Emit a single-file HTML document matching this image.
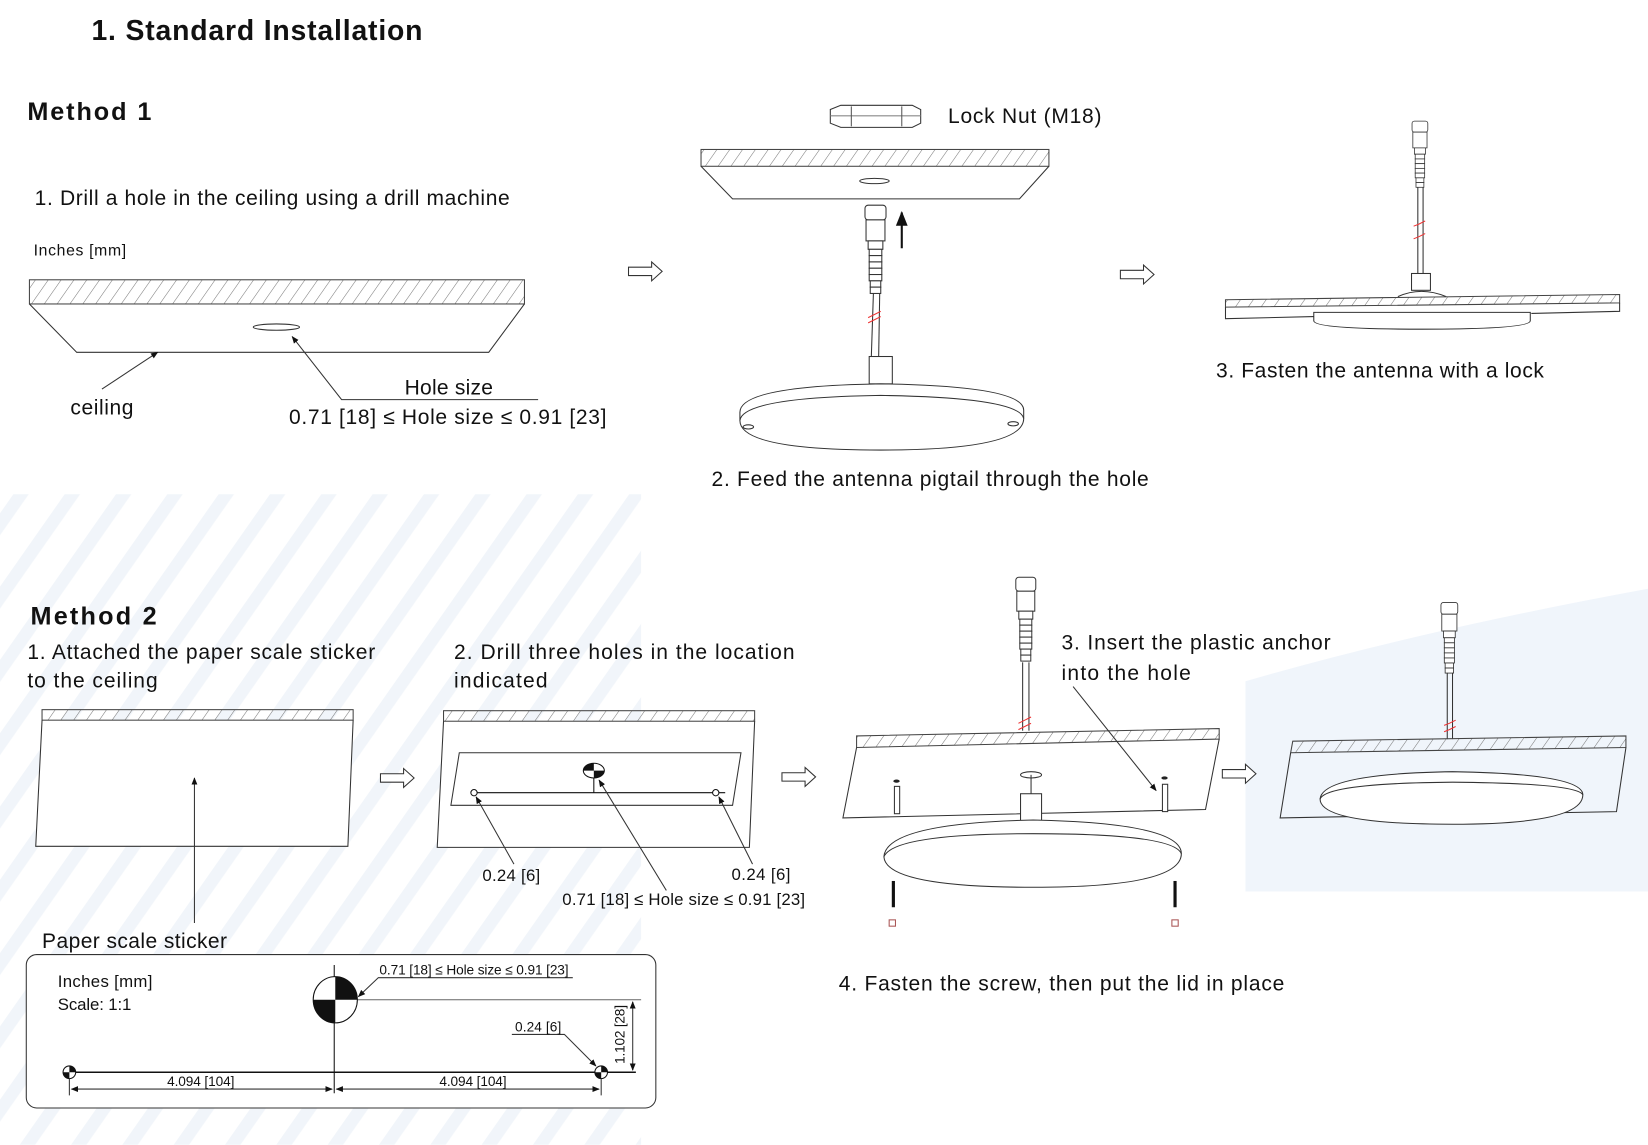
<!DOCTYPE html>
<html><head><meta charset="utf-8"><style>
html,body{margin:0;padding:0;background:#fff;}
svg{display:block;}
text{font-family:"Liberation Sans",sans-serif;fill:#111;}
</style></head><body>
<svg width="1648" height="1145" viewBox="0 0 1568 1089" xmlns="http://www.w3.org/2000/svg">
<defs>
<pattern id="h" width="10" height="10" patternUnits="userSpaceOnUse" patternTransform="rotate(35)">
<line x1="0" y1="0" x2="0" y2="10" stroke="#777" stroke-width="1"/></pattern>
<pattern id="bg" width="40" height="40" patternUnits="userSpaceOnUse" patternTransform="rotate(35)">
<rect x="0" y="0" width="12" height="40" fill="#f1f5fa"/></pattern>
<marker id="a" viewBox="0 0 10 10" refX="9" refY="5" markerWidth="7" markerHeight="7" orient="auto-start-reverse"><path d="M0,1 L10,5 L0,9 z" fill="#111"/></marker>
<g id="arr"><path d="M0,-4 H22 V-9 L32,0 L22,9 V4 H0 Z" fill="#fff" stroke="#333" stroke-width="1"/></g>
<g id="cab" stroke="#333" fill="#fff" stroke-width="1">
<rect x="-10" y="0" width="20" height="14" rx="3"/><rect x="-9" y="14" width="18" height="20"/>
<rect x="-7" y="34" width="14" height="8"/><rect x="-6" y="42" width="12" height="6"/><rect x="-6" y="48" width="12" height="6"/><rect x="-6" y="54" width="12" height="6"/><rect x="-6" y="60" width="12" height="6"/><rect x="-6" y="66" width="12" height="6"/><rect x="-5" y="72" width="10" height="6"/><rect x="-5" y="78" width="10" height="6"/></g>
</defs>
<rect width="1568" height="1089" fill="#fff"/>
<path d="M1185,648 Q1350,600 1568,560 L1568,848 L1185,848Z" fill="#f0f5fb"/>
<path d="M0,470 L610,470 L610,1089 L0,1089Z" fill="url(#bg)"/>

<text x="87" y="38" font-size="27" font-weight="bold" textLength="315">1.  Standard Installation</text>
<text x="26" y="114" font-size="24" font-weight="bold" textLength="118">Method 1</text>
<text x="33" y="195" font-size="20" textLength="452">1. Drill a hole in the ceiling  using a drill machine</text>
<text x="32" y="243" font-size="15" textLength="88">Inches [mm]</text>
<rect x="28" y="266" width="471" height="23" fill="url(#h)" stroke="#444"/>
<path d="M28,289 L73,335 L465,335 L499,289" fill="none" stroke="#333"/>
<ellipse cx="263" cy="311" rx="22" ry="3" fill="none" stroke="#333"/>
<line x1="97" y1="370" x2="150" y2="335" stroke="#333" marker-end="url(#a)"/>
<path d="M512,380 H325 L278,320" fill="none" stroke="#333" marker-end="url(#a)"/>
<text x="385" y="375" font-size="20" textLength="84">Hole size</text>
<text x="67" y="394" font-size="20" textLength="60">ceiling</text>
<text x="275" y="403" font-size="20" textLength="302">0.71 [18] ≤  Hole size ≤ 0.91 [23]</text>

<use href="#arr" x="598" y="258"/><use href="#arr" x="1066" y="261"/>

<path d="M790,104 L800,100 H868 L876,104 V117 L868,121 H800 L790,117Z" fill="#fff" stroke="#333"/>
<line x1="790" y1="110" x2="876" y2="110" stroke="#888"/><line x1="810" y1="101" x2="810" y2="120" stroke="#555"/><line x1="858" y1="101" x2="858" y2="120" stroke="#555"/>
<text x="902" y="117" font-size="20" textLength="146">Lock Nut (M18)</text>
<rect x="667" y="142" width="331" height="16" fill="url(#h)" stroke="#444"/>
<path d="M667,158 L697,189 L970,189 L998,158" fill="none" stroke="#333"/>
<ellipse cx="832" cy="172" rx="14" ry="2.5" fill="none" stroke="#333"/>
<use href="#cab" x="833" y="195"/>
<line x1="831" y1="279" x2="829" y2="340" stroke="#333"/><line x1="837" y1="279" x2="836" y2="340" stroke="#333"/>
<path d="M826,302 l6,-3 l6,-3 M826,307 l6,-3 l6,-3" stroke="#e33" fill="none"/>
<rect x="827" y="339" width="22" height="26" fill="#fff" stroke="#333"/>
<line x1="858" y1="236" x2="858" y2="202" stroke="#111" stroke-width="2" marker-end="url(#a)"/>
<path d="M704,392 Q704,367 838,365 Q974,367 974,390 L974,398 Q974,428 838,428 Q704,428 704,400Z" fill="#fff" stroke="#333"/>
<path d="M704,400 Q706,378 838,376 Q970,378 974,398" fill="none" stroke="#333"/>
<ellipse cx="712" cy="406" rx="5" ry="2" fill="none" stroke="#333"/><ellipse cx="964" cy="403" rx="5" ry="2" fill="none" stroke="#333"/>
<text x="677" y="462" font-size="20" textLength="416">2. Feed the antenna pigtail through the hole</text>

<g transform="translate(1351,115) scale(0.75)"><use href="#cab"/></g>
<line x1="1349" y1="178" x2="1349" y2="262" stroke="#333"/><line x1="1354" y1="178" x2="1354" y2="262" stroke="#333"/>
<path d="M1345,215 l5,-2 l6,-3 M1345,227 l5,-2 l6,-3" stroke="#e33" fill="none"/>
<rect x="1343" y="260" width="18" height="16" fill="#fff" stroke="#333"/>
<path d="M1330,282 Q1352,272 1376,282" fill="#fff" stroke="#333"/>
<path d="M1166,285 L1541,280 L1541,288 L1166,292Z" fill="url(#h)" stroke="#444"/>
<path d="M1166,292 V303 L1250,301 M1457,298 L1541,296 V288" fill="none" stroke="#333"/>
<path d="M1250,297 H1456 V305 Q1456,313 1353,313 Q1250,313 1250,305Z" fill="#fff" stroke="#333"/>
<text x="1157" y="359" font-size="20" textLength="312">3. Fasten the antenna with a lock</text>

<text x="29" y="594" font-size="24" font-weight="bold" textLength="120">Method 2</text>
<text x="26" y="627" font-size="20" textLength="331">1. Attached the paper scale sticker</text>
<text x="26" y="654" font-size="20" textLength="124">to the ceiling</text>
<text x="432" y="627" font-size="20" textLength="324">2. Drill three holes  in the location</text>
<text x="432" y="654" font-size="20" textLength="89">indicated</text>

<path d="M40,685 L34,805 L331,805 L336,685Z" fill="#fff"/>
<rect x="40" y="675" width="296" height="10" fill="url(#h)" stroke="#444"/>
<path d="M40,685 L34,805 L331,805 L336,685" fill="none" stroke="#333"/>
<line x1="185" y1="878" x2="185" y2="740" stroke="#333" marker-end="url(#a)"/>
<use href="#arr" x="362" y="740"/>

<path d="M422,686 L416,806 L713,806 L718,686Z" fill="#fff"/>
<rect x="422" y="676" width="296" height="10" fill="url(#h)" stroke="#444"/>
<path d="M422,686 L416,806 L713,806 L718,686" fill="none" stroke="#333"/>
<path d="M437,716 L705,716 L697,766 L429,766Z" fill="none" stroke="#333"/>
<line x1="450" y1="754" x2="690" y2="754" stroke="#111"/>
<line x1="565" y1="740" x2="565" y2="754" stroke="#111"/>
<ellipse cx="565" cy="733" rx="10" ry="7" fill="#fff" stroke="#111"/>
<path d="M565,733 h-10 a10,7 0 0 1 10,-7z M565,733 h10 a10,7 0 0 1 -10,7z" fill="#111"/>
<circle cx="451" cy="754" r="3" fill="#fff" stroke="#111"/><circle cx="681" cy="754" r="3" fill="#fff" stroke="#111"/>
<line x1="489" y1="822" x2="453" y2="758" stroke="#333" marker-end="url(#a)"/>
<line x1="716" y1="822" x2="684" y2="758" stroke="#333" marker-end="url(#a)"/>
<line x1="634" y1="847" x2="570" y2="742" stroke="#333" marker-end="url(#a)"/>
<text x="459" y="838" font-size="16" textLength="55">0.24 [6]</text>
<text x="696" y="837" font-size="16" textLength="56">0.24 [6]</text>
<text x="535" y="861" font-size="16" textLength="231">0.71 [18] ≤  Hole size ≤ 0.91 [23]</text>
<use href="#arr" x="744" y="739"/>

<g transform="translate(976,549) scale(0.95)"><use href="#cab"/></g>
<line x1="973" y1="630" x2="973" y2="695" stroke="#333"/><line x1="979" y1="630" x2="979" y2="695" stroke="#333"/>
<path d="M969,688 l6,-3 l6,-3 M969,694 l6,-3 l6,-3" stroke="#e33" fill="none"/>
<path d="M815,700 L1160,693 L1160,703 L815,711Z" fill="url(#h)" stroke="#444"/>
<path d="M815,711 L802,778 L1147,770 L1160,703" fill="none" stroke="#333"/>
<ellipse cx="981" cy="737" rx="10" ry="3" fill="none" stroke="#333"/>
<line x1="981" y1="737" x2="981" y2="755" stroke="#333"/>
<rect x="971" y="755" width="20" height="26" fill="#fff" stroke="#333"/>
<rect x="851" y="748" width="5" height="26" fill="#fff" stroke="#333"/><ellipse cx="853" cy="743" rx="3" ry="1.5" fill="#222"/>
<rect x="1106" y="746" width="5" height="26" fill="#fff" stroke="#333"/><ellipse cx="1108" cy="740" rx="3" ry="1.5" fill="#222"/>
<text x="1010" y="618" font-size="20" textLength="256">3. Insert the plastic anchor</text>
<text x="1010" y="647" font-size="20" textLength="123">into the hole</text>
<line x1="1021" y1="653" x2="1100" y2="752" stroke="#333" marker-end="url(#a)"/>
<path d="M841,815 Q843,783 983,780 Q1124,783 1124,812 Q1124,844 983,844 Q843,844 841,815Z" fill="#fff" stroke="#333"/>
<path d="M841,815 Q850,793 983,793 Q1116,793 1124,812" fill="none" stroke="#333"/>
<line x1="850" y1="838" x2="850" y2="863" stroke="#111" stroke-width="3"/>
<line x1="1118" y1="838" x2="1118" y2="863" stroke="#111" stroke-width="3"/>
<rect x="846" y="875" width="6" height="6" fill="none" stroke="#a55"/><rect x="1115" y="875" width="6" height="6" fill="none" stroke="#a55"/>
<use href="#arr" x="1163" y="736"/>

<g transform="translate(1379,573) scale(0.8)"><use href="#cab"/></g>
<line x1="1377" y1="640" x2="1377" y2="703" stroke="#333"/><line x1="1382" y1="640" x2="1382" y2="703" stroke="#333"/>
<path d="M1374,690 l5,-2 l6,-3 M1374,696 l5,-2 l6,-3" stroke="#e33" fill="none"/>
<path d="M1230,705 L1547,700 L1547,711 L1228,716Z" fill="url(#h)" stroke="#444"/>
<path d="M1228,716 L1218,778 L1538,772 L1547,711" fill="none" stroke="#333"/>
<path d="M1256,760 Q1258,736 1382,734 Q1506,736 1506,756 Q1506,784 1382,784 Q1256,784 1256,760Z" fill="#fff" stroke="#333"/>
<path d="M1256,760 Q1262,745 1382,744 Q1500,745 1506,756" fill="none" stroke="#333"/>

<text x="798" y="942" font-size="20" textLength="424">4. Fasten the screw, then put the lid in place</text>

<text x="40" y="902" font-size="20" textLength="176">Paper scale sticker</text>
<rect x="25" y="908" width="599" height="146" rx="10" fill="#fff" stroke="#333"/>
<text x="55" y="939" font-size="16" textLength="90">Inches [mm]</text>
<text x="55" y="961" font-size="16" textLength="70">Scale: 1:1</text>
<line x1="318" y1="918" x2="318" y2="1040" stroke="#111"/>
<line x1="300" y1="951" x2="610" y2="951" stroke="#666"/>
<ellipse cx="319" cy="951" rx="21" ry="22" fill="#fff" stroke="#111"/>
<path d="M319,951 v-22 a21,22 0 0 1 21,22z M319,951 v22 a21,22 0 0 1 -21,-22z" fill="#111"/>
<path d="M545,930 H360 L341,948" fill="none" stroke="#333" marker-end="url(#a)"/>
<text x="361" y="927" font-size="13" textLength="180">0.71 [18] ≤  Hole size ≤ 0.91 [23]</text>
<line x1="66" y1="1020" x2="605" y2="1020" stroke="#111" stroke-width="1.5"/>
<circle cx="66" cy="1020" r="6" fill="#fff" stroke="#111"/><path d="M66,1020 v-6 a6,6 0 0 1 6,6z M66,1020 v6 a6,6 0 0 1 -6,-6z" fill="#111"/>
<circle cx="572" cy="1020" r="6" fill="#fff" stroke="#111"/><path d="M572,1020 v-6 a6,6 0 0 1 6,6z M572,1020 v6 a6,6 0 0 1 -6,-6z" fill="#111"/>
<line x1="66" y1="1026" x2="66" y2="1042" stroke="#333"/><line x1="572" y1="1026" x2="572" y2="1042" stroke="#333"/>
<line x1="68" y1="1036" x2="316" y2="1036" stroke="#333" marker-start="url(#a)" marker-end="url(#a)"/>
<line x1="320" y1="1036" x2="570" y2="1036" stroke="#333" marker-start="url(#a)" marker-end="url(#a)"/>
<text x="159" y="1033" font-size="13" textLength="64">4.094 [104]</text>
<text x="418" y="1033" font-size="13" textLength="64">4.094 [104]</text>
<line x1="602" y1="953" x2="602" y2="1018" stroke="#333" marker-start="url(#a)" marker-end="url(#a)"/>
<text transform="translate(594,1012) rotate(-90)" font-size="13" textLength="56">1.102 [28]</text>
<path d="M487,984 H537 L567,1014" fill="none" stroke="#333" marker-end="url(#a)"/>
<text x="490" y="981" font-size="13" textLength="44">0.24 [6]</text>
</svg>
</body></html>
